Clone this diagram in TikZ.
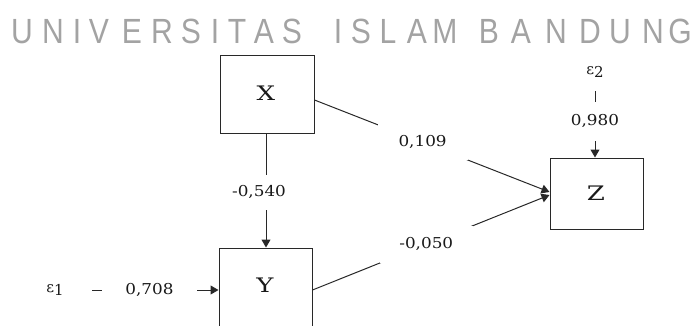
\documentclass[tikz,border=0pt]{standalone}
\usepackage{fontspec}
\usepackage{graphicx}
\usetikzlibrary{arrows.meta}
\newfontfamily\hdrfont{Liberation Sans}
\newfontfamily\numfont{DejaVu Serif}
\definecolor{hdrgray}{RGB}{163,163,163}
\definecolor{ink}{RGB}{40,40,40}
\definecolor{txt}{RGB}{25,25,25}
\newcommand{\wid}[1]{\scalebox{1.12}[1]{#1}}
\newcommand{\widv}[1]{\scalebox{1.3}[1]{#1}}
\newcommand{\narr}[1]{\scalebox{0.86}[1]{#1}}
\begin{document}
\begin{tikzpicture}[x=1pt,y=-1pt,
  box/.style={draw=ink,line width=1pt,inner sep=0pt},
  conn/.style={draw=ink,line width=1pt},
  arr/.style={conn,-{Triangle[length=8pt,width=9pt]}},
  coef/.style={fill=white,inner sep=0pt,font=\numfont\fontsize{15}{15}\selectfont,text=txt},
  errv/.style={inner sep=0pt,font=\numfont\fontsize{15}{15}\selectfont,text=txt},
  hdr/.style={anchor=base,inner sep=0pt,font=\hdrfont\fontsize{35}{35}\selectfont,text=hdrgray},
  var/.style={inner sep=0pt,font=\numfont\fontsize{20}{20}\selectfont,text=txt}]
\useasboundingbox (0,0) rectangle (693,325);
\clip (0,0) rectangle (693,325);
% header
\foreach \ch/\xx [count=\i] in {U/22,N/53,I/77,V/99,E/132,R/162,S/191,I/215,T/237,A/264,S/292,I/338,S/361,L/388,A/417,M/445,B/489,A/521,N/556,D/590,U/620,N/653,G/680}
  \node[hdr] (h\i) at (\xx,43) {\narr{\ch}};
% boxes
\node[box,minimum width=94pt,minimum height=78pt] (X) at (267,94) {};
\node[var] (Xl) at (266,93) {\widv{X}};
\node[box,minimum width=93pt,minimum height=90pt] (Y) at (265.5,293) {};
\node[var] (Yl) at (265,285) {\widv{Y}};
\node[box,minimum width=93pt,minimum height=71pt] (Z) at (596.5,193.5) {};
\node[var] (Zl) at (596,193) {\widv{Z}};
% error terms
\node[errv,minimum width=74pt,minimum height=20pt] (e1) at (55,290) {ε\raisebox{-3pt}{1}};
\node[errv,minimum height=38pt] (e2) at (595,72) {ε\raisebox{-3pt}{2}};
% connectors
\draw[arr] ([yshift=-6pt]X.east) -- node[coef,pos=0.46,minimum width=90pt,minimum height=36pt] (c1) {\wid{0,109}} ([yshift=1.5pt]Z.west);
\draw[arr] ([yshift=3pt]Y.east) -- node[coef,pos=0.48,minimum width=93pt,minimum height=37pt] (c2) {\wid{-0,050}} ([yshift=-1.5pt]Z.west);
\draw[arr] ([xshift=-1pt]X.south) -- node[coef,pos=0.517,xshift=-7pt,minimum width=60pt,minimum height=35pt] (c3) {\wid{-0,540}} ([xshift=-1pt]X.south |- Y.north);
\draw[arr] (e1) -- node[coef,pos=0.453,minimum width=95pt,minimum height=20pt] (c4) {\wid{0,708}} (e1 -| Y.west);
\draw[arr] (e2) -- node[coef,pos=0.455,minimum width=50pt,minimum height=39pt] (c5) {\wid{0,980}} (e2 |- Z.north);
\end{tikzpicture}
\end{document}
